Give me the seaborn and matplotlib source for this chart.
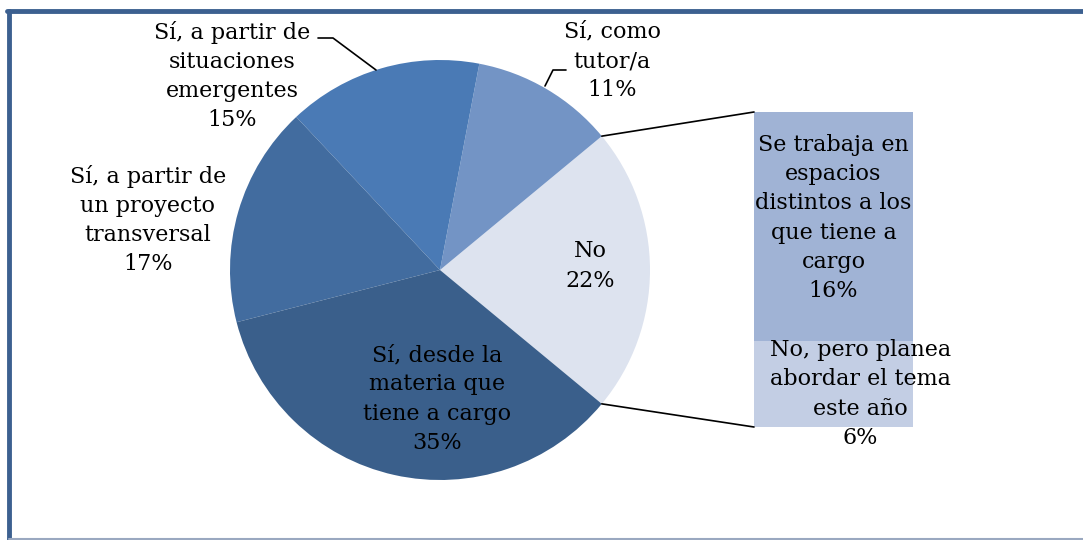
import numpy as np
import matplotlib
matplotlib.use("Agg")
import matplotlib.pyplot as plt
import seaborn as sns
from matplotlib.patches import ConnectionPatch
from matplotlib.lines import Line2D

sns.set_theme(style="white")
plt.rcParams['font.family'] = ['DejaVu Serif']
plt.rcParams['text.color'] = 'black'

# pie slices (counter-clockwise from the right)
pie_labels = ['No', 'Sí, como\ntutor/a', 'Sí, a partir de\nsituaciones\nemergentes',
              'Sí, a partir de\nun proyecto\ntransversal', 'Sí, desde la\nmateria que\ntiene a cargo']
pie_values = [22, 11, 15, 17, 35]
pie_colors = ['#dde3ef', '#7394c5', '#4a7ab5', '#426c9f', '#3a5f8b']

# breakdown of "No"
bar_labels = ['No, pero planea\nabordar el tema\neste año', 'Se trabaja en\nespacios\ndistintos a los\nque tiene a\ncargo']
bar_values = [6, 16]
bar_colors = ['#c3cee4', '#a0b3d5']

W, H = 1083, 540
fig = plt.figure(figsize=(W / 100, H / 100), dpi=100)

# pie axes in pixel coordinates
ax = fig.add_axes([0, 0, 1, 1])
cx, cy, r = 440, H - 270, 210
half = pie_values[0] / sum(pie_values) * 360 / 2
wedges, _ = ax.pie(pie_values, colors=pie_colors, startangle=-half, counterclock=True,
                   center=(cx, cy), radius=r, frame=True,
                   wedgeprops=dict(linewidth=0))
ax.set_xlim(0, W)
ax.set_ylim(0, H)
ax.set_aspect('equal')
ax.axis('off')

fs = 16
kw = dict(ha='center', va='center', fontsize=fs, linespacing=1.42)
pct = [f'{v}%' for v in pie_values]
ax.text(590, H - 266, f'{pie_labels[0]}\n{pct[0]}', **kw)
ax.text(437, H - 399, f'{pie_labels[4]}\n{pct[4]}', **kw)
ax.text(612, H - 61, f'{pie_labels[1]}\n{pct[1]}', **kw)
ax.text(232, H - 76, f'{pie_labels[2]}\n{pct[2]}', **kw)
ax.text(148, H - 220, f'{pie_labels[3]}\n{pct[3]}', **kw)

# leader lines
ax.add_line(Line2D([318, 333, 376], [H - 38, H - 38, H - 70], color='black', lw=1.2))
ax.add_line(Line2D([545, 553, 566], [H - 86, H - 70, H - 70], color='black', lw=1.2))

# stacked bar
bx = fig.add_axes([754 / W, (H - 427) / H, 159 / W, 315 / H])
bottom = 0
for lab, v, c in zip(bar_labels, bar_values, bar_colors):
    bx.bar(0, v, bottom=bottom, width=1, color=c, linewidth=0)
    bottom += v
bx.set_xlim(-0.5, 0.5)
bx.set_ylim(0, sum(bar_values))
bx.axis('off')
bx.text(0.0, 14.6, f'{bar_labels[1]}\n{bar_values[1]}%', clip_on=False, **kw)
bx.text(0.17, 2.3, f'{bar_labels[0]}\n{bar_values[0]}%', clip_on=False, **kw)

# connectors from pie edge to the bar
for ang, yb in [(half, sum(bar_values)), (-half, 0)]:
    p = (cx + r * np.cos(np.radians(ang)), cy + r * np.sin(np.radians(ang)))
    con = ConnectionPatch(xyA=(-0.5, yb), coordsA=bx.transData, xyB=p, coordsB=ax.transData,
                          color='black', lw=1.2)
    fig.add_artist(con)

# outer frame
fig.add_artist(Line2D([9 / W, 9 / W], [0, 1 - 11 / H], transform=fig.transFigure,
                      color='#3c6090', lw=3.5))
fig.add_artist(Line2D([7 / W, 1], [1 - 11 / H, 1 - 11 / H], transform=fig.transFigure,
                      color='#3c6090', lw=3.5))
fig.add_artist(Line2D([9 / W, 1], [1.5 / H, 1.5 / H], transform=fig.transFigure,
                      color='#9aa8c0', lw=1.5))

fig.savefig('out.png', dpi=100)
